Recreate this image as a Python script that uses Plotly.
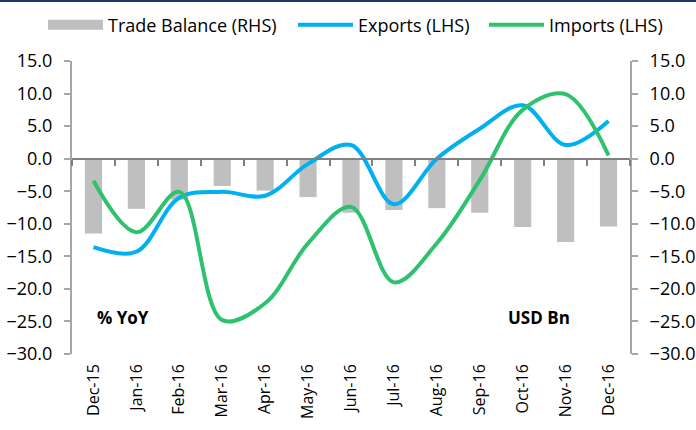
import plotly.graph_objects as go

months = ["Dec-15", "Jan-16", "Feb-16", "Mar-16", "Apr-16", "May-16", "Jun-16",
          "Jul-16", "Aug-16", "Sep-16", "Oct-16", "Nov-16", "Dec-16"]
trade_balance = [-11.5, -7.7, -6.3, -4.2, -4.9, -5.9, -8.3, -7.9, -7.6, -8.3, -10.5, -12.8, -10.4]
exports = [-13.6, -14.3, -6.0, -5.1, -5.7, -0.8, 2.1, -7.0, 0.0, 4.6, 8.2, 2.1, 5.8]
imports = [-3.4, -11.3, -5.1, -24.8, -22.2, -13.0, -7.4, -19.0, -13.0, -3.3, 7.5, 9.9, 0.5]

FONT = "Open Sans"
GREY_AX = "#a6a6a6"
BAR_COLOR = "#bfbfbf"

fig = go.Figure()
# both axes share the same -30..15 scale; bars on the base axis so lines draw on top
fig.add_trace(go.Bar(x=months, y=trade_balance, name="Trade Balance (RHS)",
                     marker=dict(color=BAR_COLOR, line=dict(width=0)), yaxis="y",
                     legendgroup="tb", showlegend=False))
# legend entry for the bars (wide grey swatch like the original)
fig.add_trace(go.Scatter(x=[None], y=[None], name="Trade Balance (RHS)", mode="lines",
                         line=dict(color=BAR_COLOR, width=12), legendgroup="tb",
                         legend="legend"))
# invisible helper trace for the category axis crossing at zero
fig.add_trace(go.Scatter(x=months, y=[0] * len(months), xaxis="x2", mode="lines",
                         line=dict(width=0, color="rgba(0,0,0,0)"), showlegend=False,
                         hoverinfo="skip"))
fig.add_trace(go.Scatter(x=months, y=exports, name="Exports (LHS)", mode="lines", yaxis="y2",
                         line=dict(color="#00b0f0", width=4, shape="spline", smoothing=1.0),
                         legend="legend2"))
fig.add_trace(go.Scatter(x=months, y=imports, name="Imports (LHS)", mode="lines", yaxis="y2",
                         line=dict(color="#2ec26e", width=4, shape="spline", smoothing=1.0),
                         legend="legend3"))

def legend_at(px):
    return dict(orientation="h", xref="container", yref="container", x=px / 696,
                xanchor="left", y=0.942, yanchor="middle", font=dict(size=18, family=FONT),
                itemwidth=55, bgcolor="rgba(0,0,0,0)")

fig.update_layout(
    width=696, height=430,
    margin=dict(l=72, r=66, t=61, b=76, autoexpand=False),
    paper_bgcolor="white", plot_bgcolor="white",
    font=dict(family=FONT, size=18, color="#000000"),
    bargap=0.6,
    showlegend=True,
    legend=legend_at(43),
    legend2=legend_at(293),
    legend3=legend_at(484),
    xaxis=dict(type="category", showline=False, ticks="", tickangle=-90,
               tickfont=dict(size=16), showgrid=False, zeroline=False, ticklabelstandoff=6),
    xaxis2=dict(type="category", overlaying="x", matches="x", anchor="free", position=30 / 45,
                showline=True, linecolor="#808080", linewidth=2, ticks="outside",
                tickson="boundaries", ticklen=6, tickwidth=2, tickcolor="#808080",
                showticklabels=False, showgrid=False, zeroline=False),
    yaxis=dict(range=[-30, 15], dtick=5, tickformat=".1f", showline=True, linecolor=GREY_AX,
               linewidth=2, ticks="outside", ticklen=6, tickwidth=2, tickcolor=GREY_AX,
               showgrid=False, zeroline=False, ticklabelstandoff=8),
    yaxis2=dict(range=[-30, 15], dtick=5, tickformat=".1f", overlaying="y", side="right",
                showline=True, linecolor=GREY_AX, linewidth=2, ticks="outside", ticklen=6,
                tickwidth=2, tickcolor=GREY_AX, showgrid=False, zeroline=False,
                ticklabelstandoff=8),
    annotations=[
        dict(text="<b>% YoY</b>", xref="paper", yref="paper", x=0.041, y=0.123,
             xanchor="left", yanchor="middle", showarrow=False, font=dict(size=17)),
        dict(text="<b>USD Bn</b>", xref="paper", yref="paper", x=0.778, y=0.123,
             xanchor="left", yanchor="middle", showarrow=False, font=dict(size=17)),
    ],
    shapes=[dict(type="line", xref="paper", yref="paper", x0=-72 / 558, x1=1 + 66 / 558,
                 y0=1 + 60 / 293, y1=1 + 60 / 293, line=dict(color="#1f3864", width=2))],
)

fig.write_html("out.html")
